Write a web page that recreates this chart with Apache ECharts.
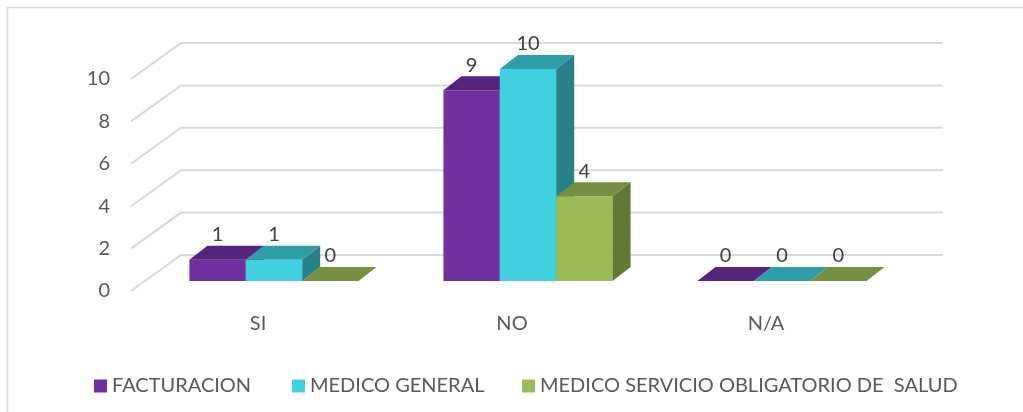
<!DOCTYPE html>
<html>
<head>
<meta charset="utf-8">
<script src="https://cdn.jsdelivr.net/npm/echarts@6/dist/echarts.min.js"></script>
<style>html,body{margin:0;padding:0;background:#fff}#c{width:1023px;height:412px}</style>
</head>
<body>
<div id="c"></div>
<script>
const categories = ['SI', 'NO', 'N/A'];
const seriesNames = ['FACTURACION', 'MEDICO GENERAL', 'MEDICO SERVICIO OBLIGATORIO DE  SALUD'];
const facturacion = [1, 9, 0];
const medicoGeneral = [1, 10, 0];
const medicoServicio = [0, 4, 0];
const yTicks = [0, 2, 4, 6, 8, 10];

const FONT = 'Lato, "Open Sans", sans-serif';
const palettes = [
  {front: '#7030A0', top: '#56237D', side: '#4A1E6B'},
  {front: '#40D0E0', top: '#2F9EA9', side: '#288189'},
  {front: '#9BBB59', top: '#778F40', side: '#647835'}
];
const PLANE_DX = 16, PLANE_DY = -10;   // bar plane offset from front plane
const DEPTH_DX = 18, DEPTH_DY = -14;   // bar depth
const WALL_DX = 50, WALL_DY = -36;     // back wall offset

function barSeries(idx, values) {
  const pal = palettes[idx];
  return {
    type: 'custom',
    name: seriesNames[idx],
    itemStyle: {color: pal.front},
    data: values.map((v, i) => [i, v]),
    z: 3,
    renderItem: function (params, api) {
      const cat = api.value(0), val = api.value(1);
      const base = api.coord([cat, 0]);
      const topP = api.coord([cat, val]);
      const band = api.size([1, 0])[0];
      const bw = band * 0.222;
      const x = base[0] - 1.5 * bw + idx * bw + PLANE_DX;
      const by = base[1] + PLANE_DY;
      const ty = topP[1] + PLANE_DY;
      const children = [];
      if (by - ty > 0.5) {
        children.push({type: 'rect', shape: {x: x, y: ty, width: bw, height: by - ty}, style: {fill: pal.front}});
        children.push({type: 'polygon', shape: {points: [[x + bw, ty], [x + bw + DEPTH_DX, ty + DEPTH_DY], [x + bw + DEPTH_DX, by + DEPTH_DY], [x + bw, by]]}, style: {fill: pal.side}});
      }
      children.push({type: 'polygon', shape: {points: [[x, ty], [x + bw, ty], [x + bw + DEPTH_DX, ty + DEPTH_DY], [x + DEPTH_DX, ty + DEPTH_DY]]}, style: {fill: pal.top}});
      children.push({type: 'text', style: {text: String(val), x: x + bw / 2, y: ty + DEPTH_DY - 11, align: 'center', verticalAlign: 'middle', fill: '#404040', fontSize: 20, fontFamily: FONT}, z2: 10});
      return {type: 'group', children: children};
    }
  };
}

const chart = echarts.init(document.getElementById('c'));
chart.setOption({
  backgroundColor: '#fff',
  animation: false,
  graphic: [{type: 'rect', shape: {x: 7.5, y: 7.5, width: 1040, height: 420}, style: {fill: 'none', stroke: '#D9D9D9', lineWidth: 1.5}, z: -10}],
  grid: {left: 131, right: 130, top: 79, bottom: 121},
  xAxis: {
    type: 'category', data: categories,
    axisLine: {show: false}, axisTick: {show: false}, splitLine: {show: false},
    axisLabel: {color: '#595959', fontSize: 20, fontFamily: FONT, margin: 23}
  },
  yAxis: {
    type: 'value', min: 0, max: 10, interval: 2,
    axisLine: {show: false}, axisTick: {show: false}, splitLine: {show: false},
    axisLabel: {color: '#595959', fontSize: 20, fontFamily: FONT, margin: 21, padding: [6, 0, 0, 0]}
  },
  legend: [
    {data: [seriesNames[0]], left: 89, top: 371},
    {data: [seriesNames[1]], left: 287, top: 371},
    {data: [seriesNames[2]], left: 517, top: 371}
  ].map(l => Object.assign(l, {icon: 'rect', itemWidth: 13, itemHeight: 13, textStyle: {color: '#595959', fontSize: 20, fontFamily: FONT}})),
  series: [
    {
      type: 'custom', name: 'grid', silent: true, z: 1,
      data: yTicks.map(v => [0, v]),
      renderItem: function (params, api) {
        const cs = params.coordSys;
        const y = api.coord([0, api.value(1)])[1];
        const x0 = cs.x;
        return {type: 'polyline', shape: {points: [[x0, y], [x0 + WALL_DX, y + WALL_DY], [cs.x + cs.width + WALL_DX, y + WALL_DY]]}, style: {stroke: '#D9D9D9', lineWidth: 2, fill: 'none'}};
      }
    },
    barSeries(0, facturacion),
    barSeries(1, medicoGeneral),
    barSeries(2, medicoServicio)
  ]
});
</script>
</body>
</html>
